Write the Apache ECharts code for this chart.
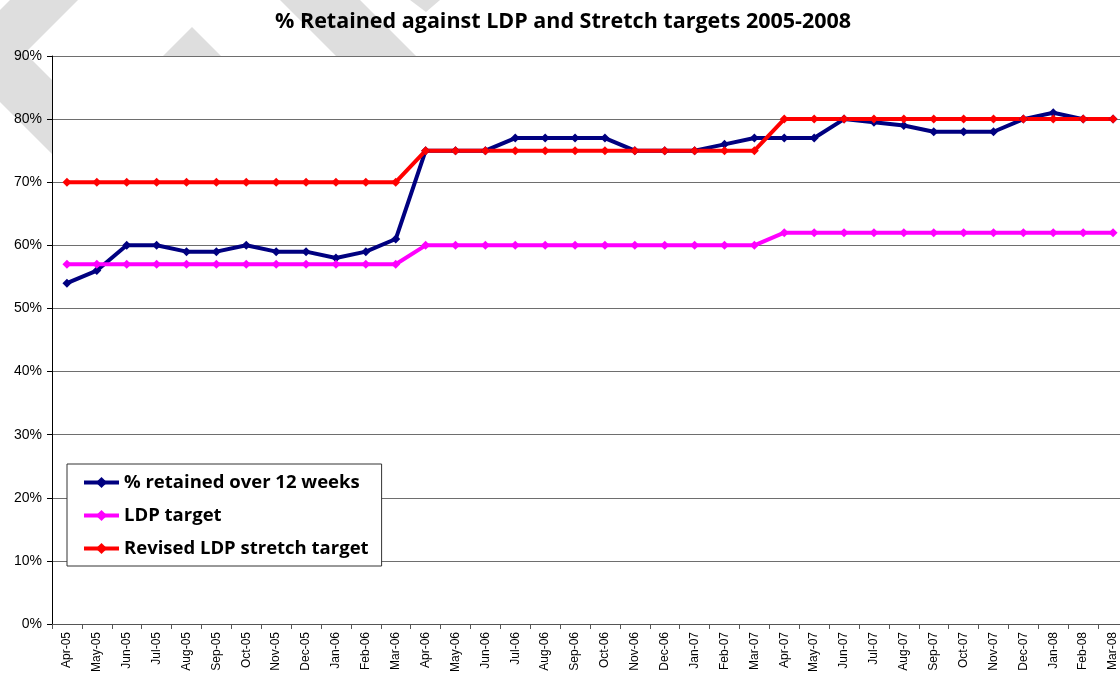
<!DOCTYPE html>
<html>
<head>
<meta charset="utf-8">
<script src="https://cdn.jsdelivr.net/npm/echarts@6/dist/echarts.min.js"></script>
<style>
  html, body { margin: 0; padding: 0; background: #fff; overflow: hidden; }
  /* the plot runs a few pixels past the right edge of the picture, as in the original */
  #chart { width: 1128px; height: 675px; }
</style>
</head>
<body>
<div id="chart"></div>
<script>
// months Apr-05 .. Mar-08
var months = ['Apr-05', 'May-05', 'Jun-05', 'Jul-05', 'Aug-05', 'Sep-05', 'Oct-05', 'Nov-05', 'Dec-05',
  'Jan-06', 'Feb-06', 'Mar-06', 'Apr-06', 'May-06', 'Jun-06', 'Jul-06', 'Aug-06', 'Sep-06', 'Oct-06',
  'Nov-06', 'Dec-06', 'Jan-07', 'Feb-07', 'Mar-07', 'Apr-07', 'May-07', 'Jun-07', 'Jul-07', 'Aug-07',
  'Sep-07', 'Oct-07', 'Nov-07', 'Dec-07', 'Jan-08', 'Feb-08', 'Mar-08'];

var retained = [54, 56, 60, 60, 59, 59, 60, 59, 59, 58, 59, 61,
  75, 75, 75, 77, 77, 77, 77, 75, 75, 75, 76, 77,
  77, 77, 80, 79.5, 79, 78, 78, 78, 80, 81, 80, 80];

var ldpTarget = [57, 57, 57, 57, 57, 57, 57, 57, 57, 57, 57, 57,
  60, 60, 60, 60, 60, 60, 60, 60, 60, 60, 60, 60,
  62, 62, 62, 62, 62, 62, 62, 62, 62, 62, 62, 62];

var stretchTarget = [70, 70, 70, 70, 70, 70, 70, 70, 70, 70, 70, 70,
  75, 75, 75, 75, 75, 75, 75, 75, 75, 75, 75, 75,
  80, 80, 80, 80, 80, 80, 80, 80, 80, 80, 80, 80];

var yTicks = { min: 0, max: 90, step: 10 };

var chart = echarts.init(document.getElementById('chart'));

// grey diagonal watermark bands behind the plot
var bandColor = '#dedede';
function band(points) {
  return { type: 'polygon', z: -10, silent: true, shape: { points: points }, style: { fill: bandColor } };
}

function line(name, data, color) {
  return {
    name: name,
    type: 'line',
    data: data,
    symbol: 'diamond',
    symbolSize: 9,
    lineStyle: { color: color, width: 4 },
    itemStyle: { color: color },
    emphasis: { disabled: true },
    animation: false
  };
}

chart.setOption({
  backgroundColor: '#fff',
  title: {
    text: '% Retained against LDP and Stretch targets 2005-2008',
    left: 270,
    top: 6,
    textStyle: { fontFamily: 'Open Sans', fontWeight: 'bold', fontSize: 21.5, color: '#000' }
  },
  graphic: [
    band([[10, 0], [78, 0], [0, 78], [0, 10]]),
    band([[0, 28], [0, 102], [70, 172], [70, 98]]),
    band([[192, 27], [161, 58], [223, 58]]),
    band([[280, 0], [360, 0], [418, 58], [338, 58]]),
    band([[410, 0], [440, 0], [426, 12]])
  ],
  legend: {
    orient: 'vertical',
    left: 67,
    top: 464,
    padding: [9, 13, 8, 15],
    itemGap: 14,
    itemWidth: 35,
    itemHeight: 14,
    backgroundColor: '#fff',
    borderColor: '#333',
    borderWidth: 1,
    lineStyle: { width: 4 },
    textStyle: { fontFamily: 'Open Sans', fontWeight: 'bold', fontSize: 18.5, color: '#000' },
    data: ['% retained over 12 weeks', 'LDP target', 'Revised LDP stretch target']
  },
  grid: {
    show: true,
    backgroundColor: '#fff',
    borderWidth: 0,
    left: 52,
    top: 56,
    bottom: 51,
    right: 0
  },
  xAxis: {
    type: 'category',
    data: months,
    boundaryGap: true,
    axisLine: { lineStyle: { color: '#555', width: 1 } },
    axisTick: { show: true, length: 5, lineStyle: { color: '#555' } },
    axisLabel: {
      interval: 0,
      rotate: 90,
      margin: 8,
      fontFamily: 'Liberation Sans',
      fontSize: 12,
      color: '#000'
    }
  },
  yAxis: {
    type: 'value',
    min: yTicks.min,
    max: yTicks.max,
    interval: yTicks.step,
    axisLine: { show: true, lineStyle: { color: '#000', width: 1 } },
    axisTick: { show: true, length: 5, lineStyle: { color: '#000' } },
    axisLabel: {
      formatter: '{value}%',
      margin: 10,
      fontFamily: 'Liberation Sans',
      fontSize: 14,
      color: '#000'
    },
    splitLine: { lineStyle: { color: '#6e6e6e', width: 1 } }
  },
  series: [
    line('% retained over 12 weeks', retained, '#000080'),
    line('LDP target', ldpTarget, '#ff00ff'),
    line('Revised LDP stretch target', stretchTarget, '#ff0000')
  ]
});
</script>
</body>
</html>
